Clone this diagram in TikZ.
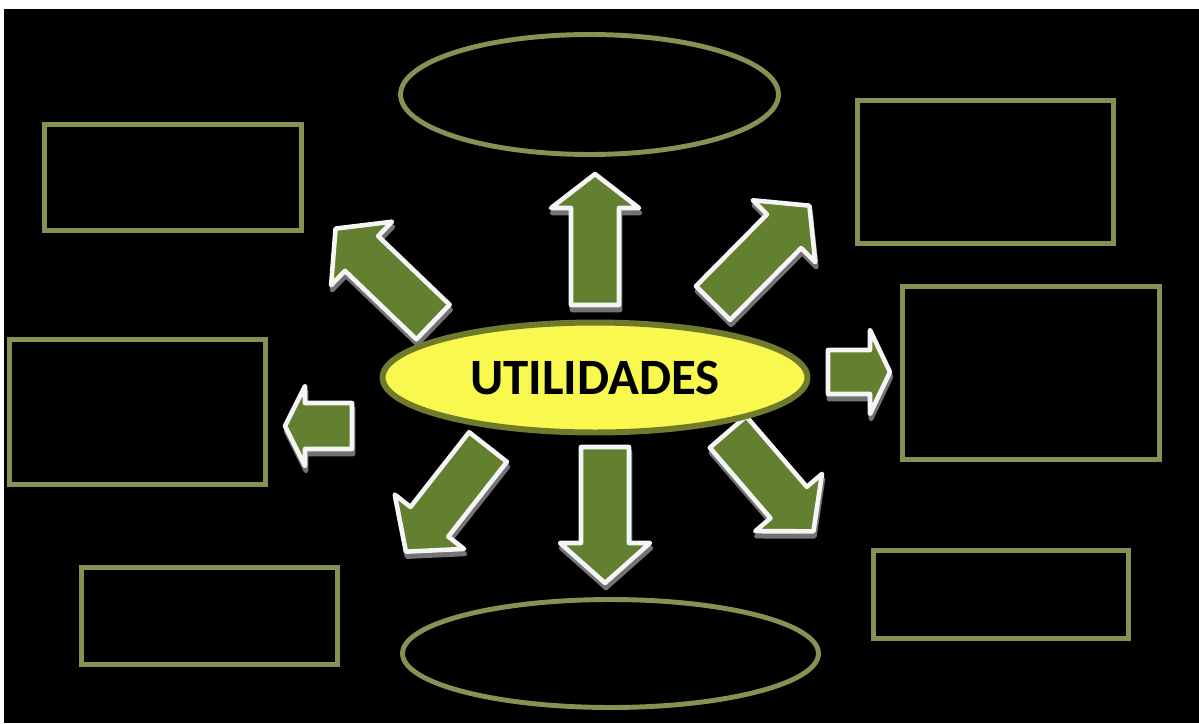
\documentclass[tikz,border=0pt]{standalone}
\usepackage{fontspec}
\setmainfont{Carlito}
\usepackage{tikz}
\usetikzlibrary{shapes.geometric}

\definecolor{boxolive}{RGB}{134,146,84}
\definecolor{arrowgreen}{RGB}{98,128,48}
\definecolor{centreyellow}{RGB}{248,248,78}
\definecolor{centreedge}{RGB}{112,122,44}

\tikzset{
    idea/.style={draw=boxolive, line width=2.8pt, fill=black},
    ideaoval/.style={idea, ellipse},
    arrowbody/.style={fill=arrowgreen, draw=white!92!gray, line width=2.6pt, line join=round},
    arrowshadow/.style={fill=black!55!white, draw=black!55!white, line width=2.6pt, line join=round}
}

% x, y (tail), angle, length, head length, shaft half width, head half width
\newcommand{\utilarrow}[7]{%
    \begin{scope}[shift={(#1+1,#2+5)}, rotate=#3]
        \path[arrowshadow] (0,-#6) -- (#4-#5,-#6) -- (#4-#5,-#7) -- (#4,0) -- (#4-#5,#7) -- (#4-#5,#6) -- (0,#6) -- cycle;
    \end{scope}
    \begin{scope}[shift={(#1,#2)}, rotate=#3]
        \draw[arrowbody] (0,-#6) -- (#4-#5,-#6) -- (#4-#5,-#7) -- (#4,0) -- (#4-#5,#7) -- (#4-#5,#6) -- (0,#6) -- cycle;
    \end{scope}}

\begin{document}
\begin{tikzpicture}[x=0.02cm, y=-0.02cm]
        \fill[white] (0, 0) rectangle (1199, 723);
        \fill[black] (4, 9) rectangle (1199, 723);
        \useasboundingbox (0, 0) rectangle (1199, 723);

        \node[idea, minimum width=5.14cm, minimum height=2.12cm] (topleft) at (173, 177.5) {};
        \node[idea, minimum width=5.12cm, minimum height=2.90cm] (midleft) at (137.5, 412) {};
        \node[idea, minimum width=5.12cm, minimum height=1.94cm] (botleft) at (209.5, 616) {};
        \node[idea, minimum width=5.12cm, minimum height=2.86cm] (topright) at (985.5, 172) {};
        \node[idea, minimum width=5.14cm, minimum height=3.46cm] (midright) at (1031, 373) {};
        \node[idea, minimum width=5.10cm, minimum height=1.76cm] (botright) at (1001, 594.5) {};

        \node[ideaoval, minimum width=7.56cm, minimum height=2.40cm] (topoval) at (589.5, 94.5) {};
        \node[ideaoval, minimum width=8.32cm, minimum height=2.16cm] (botoval) at (610.5, 653.5) {};

        \utilarrow{595}{305}{90}{131}{34}{24}{44}
        \utilarrow{605}{447}{270}{136}{40}{24}{45}
        \utilarrow{352}{426}{180}{67}{20}{23}{40}
        \utilarrow{828}{372}{0}{62}{20}{22}{42}
        \utilarrow{433}{322}{136.2}{135}{36}{24}{44}
        \utilarrow{713}{303}{45.3}{137}{36}{24}{44}
        \utilarrow{488}{447}{231.9}{133}{38}{24}{44}
        \utilarrow{728}{432}{310.7}{131}{38}{24}{44}

        \node[ellipse, draw=centreedge, line width=3.4pt, fill=centreyellow,
              minimum width=8.50cm, minimum height=2.20cm,
              font=\bfseries\fontsize{29}{29}\selectfont] (utilidades) at (595, 377.5) {UTILIDADES};
    \end{tikzpicture}
\end{document}
